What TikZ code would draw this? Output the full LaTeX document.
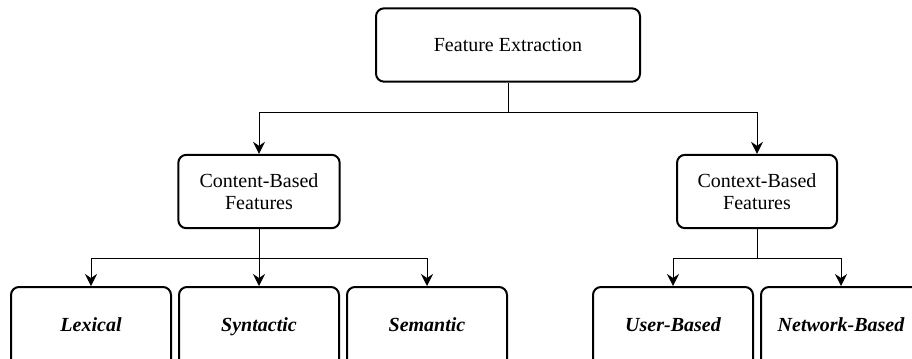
\documentclass[tikz,border=0pt]{standalone}
\usepackage{fontspec}
\setmainfont{Liberation Serif}
\usepackage{tikz}
\usetikzlibrary{arrows.meta}

\tikzset{
  featbox/.style={draw, line width=1.5pt, rounded corners=6pt, align=center,
    minimum height=55pt, font=\fontsize{15}{17}\selectfont},
  leafbox/.style={featbox, minimum width=120pt, minimum height=60pt, text height=10pt, text depth=3pt,
    font=\fontsize{15}{17}\selectfont\bfseries\itshape},
  link/.style={line width=0.75pt, -{Stealth[length=9pt,width=9pt,inset=3pt]}}
}

\begin{document}
\begin{tikzpicture}[x=0.75pt,y=0.75pt,yscale=-1,xscale=1]
\useasboundingbox (0,0) rectangle (912,358);
% root
\node[featbox, minimum width=198pt] (fe) at (508,45) {Feature Extraction};
% second level
\node[featbox, minimum width=121pt] (cb) at (259,191.5) {Content-Based\\Features};
\node[featbox, minimum width=120pt] (xb) at (757,191.5) {Context-Based\\Features};
% leaves
\node[leafbox] (lex) at (91,327) {Lexical};
\node[leafbox] (syn) at (259,327) {Syntactic};
\node[leafbox] (sem) at (427,327) {Semantic};
\node[leafbox] (usr) at (673,327) {User-Based};
\node[leafbox] (net) at (841,327) {Network-Based};
% junctions
\coordinate (j0) at (508,112);
\coordinate (j1) at (259,258);
\coordinate (j2) at (757,258);
% connectors
\draw[line width=0.75pt] (fe.south) -- (j0);
\draw[link] (j0) -| (cb.north);
\draw[link] (j0) -| (xb.north);
\draw[line width=0.75pt] (cb.south) -- (j1);
\draw[link] (j1) -| (lex.north);
\draw[link] (j1) -- (syn.north);
\draw[link] (j1) -| (sem.north);
\draw[line width=0.75pt] (xb.south) -- (j2);
\draw[link] (j2) -| (usr.north);
\draw[link] (j2) -| (net.north);
\end{tikzpicture}
\end{document}
